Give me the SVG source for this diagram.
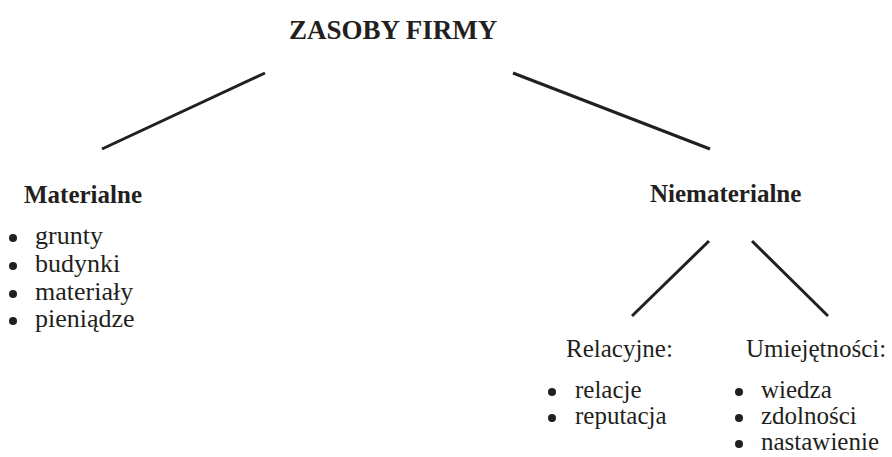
<svg xmlns="http://www.w3.org/2000/svg" width="892" height="457" viewBox="0 0 892 457">
  <style>
    text { font-family: "Liberation Serif", "Times New Roman", serif; fill: #231f20; }
    .title { font-size: 27px; font-weight: bold; }
    .head { font-size: 25px; font-weight: bold; }
    .sub { font-size: 25px; }
    .item { font-size: 26px; }
    .item-r { font-size: 25px; }
    .bullet { fill: #231f20; }
    .link { stroke: #231f20; stroke-width: 3; fill: none; }
  </style>
  <defs>
    <circle id="dot" r="4" class="bullet"/>
  </defs>

  <rect width="892" height="457" fill="#ffffff"/>

  <!-- branch lines -->
  <g id="connectors">
    <line class="link" x1="265" y1="73" x2="102" y2="149"/>
    <line class="link" x1="513" y1="73" x2="710" y2="149"/>
    <line class="link" x1="709" y1="241" x2="632" y2="316"/>
    <line class="link" x1="752" y1="241" x2="828" y2="316"/>
  </g>

  <g id="root">
    <text class="title" x="289" y="39">ZASOBY FIRMY</text>
  </g>

  <g id="materialne">
    <text class="head" x="24" y="203">Materialne</text>
    <use href="#dot" x="13" y="238"/>
    <text class="item" x="35" y="244">grunty</text>
    <use href="#dot" x="13" y="266"/>
    <text class="item" x="35" y="272">budynki</text>
    <use href="#dot" x="13" y="294"/>
    <text class="item" x="35" y="300">materiały</text>
    <use href="#dot" x="13" y="321"/>
    <text class="item" x="35" y="327">pieniądze</text>
  </g>

  <g id="niematerialne">
    <text class="head" x="650" y="202">Niematerialne</text>
  </g>

  <g id="relacyjne">
    <text class="sub" x="566" y="357">Relacyjne:</text>
    <use href="#dot" x="552" y="392"/>
    <text class="item-r" x="575" y="398">relacje</text>
    <use href="#dot" x="552" y="418"/>
    <text class="item-r" x="575" y="424">reputacja</text>
  </g>

  <g id="umiejetnosci">
    <text class="sub" x="746" y="357">Umiejętności:</text>
    <use href="#dot" x="739" y="392"/>
    <text class="item-r" x="761" y="398">wiedza</text>
    <use href="#dot" x="739" y="418"/>
    <text class="item-r" x="761" y="424">zdolności</text>
    <use href="#dot" x="739" y="444"/>
    <text class="item-r" x="761" y="450">nastawienie</text>
  </g>
</svg>
